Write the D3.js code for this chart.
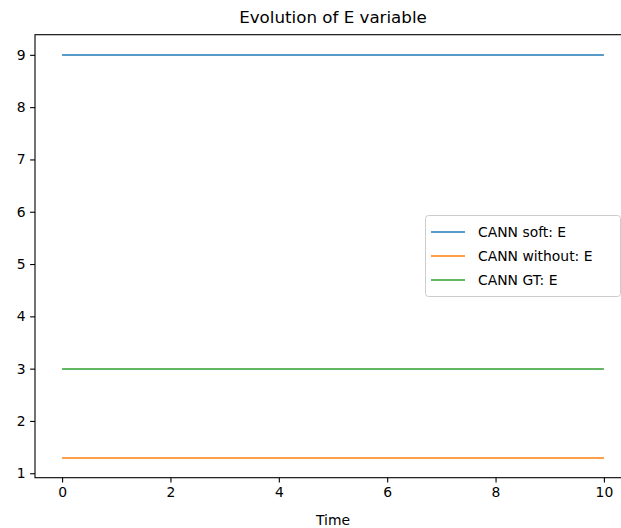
<!DOCTYPE html>
<html>
<head>
<meta charset="utf-8">
<script src="https://cdn.jsdelivr.net/npm/d3@7/dist/d3.min.js"></script>
<style>
body { margin: 0; background: #fff; }
svg { display: block; font-family: "DejaVu Sans", sans-serif; }
</style>
</head>
<body>
<svg id="chart" width="621" height="528"></svg>
<script>
const times = [0, 1, 2, 3, 4, 5, 6, 7, 8, 9, 10];
const softE = [9, 9, 9, 9, 9, 9, 9, 9, 9, 9, 9];
const withoutE = [1.3, 1.3, 1.3, 1.3, 1.3, 1.3, 1.3, 1.3, 1.3, 1.3, 1.3];
const gtE = [3, 3, 3, 3, 3, 3, 3, 3, 3, 3, 3];
const seriesNames = ["CANN soft: E", "CANN without: E", "CANN GT: E"];
const seriesColors = ["#1f77b4", "#ff7f0e", "#2ca02c"];
const xTicks = [0, 2, 4, 6, 8, 10];
const yTicks = [1, 2, 3, 4, 5, 6, 7, 8, 9];

const series = [softE, withoutE, gtE];
const svg = d3.select("#chart");
const L = 35, T = 34.7, R = 631, B = 477.7;

const xmin = d3.min(times), xmax = d3.max(times);
const xpad = (xmax - xmin) * 0.05;
const allY = series.flat();
const ymin = d3.min(allY), ymax = d3.max(allY);
const ypad = (ymax - ymin) * 0.05;

const x = d3.scaleLinear().domain([xmin - xpad, xmax + xpad]).range([L, R]);
const y = d3.scaleLinear().domain([ymin - ypad, ymax + ypad]).range([B, T]);

const line = d3.line().x((d, i) => x(times[i])).y(d => Math.round(y(d)));
series.forEach((s, k) => {
  svg.append("path").datum(s)
    .attr("d", line).attr("fill", "none")
    .attr("stroke", seriesColors[k]).attr("stroke-width", 1.5);
});

// spines
svg.append("rect").attr("x", L).attr("y", T).attr("width", R - L).attr("height", B - T)
  .attr("fill", "none").attr("stroke", "#000").attr("stroke-width", 1.1);

const xAxis = svg.append("g").attr("transform", `translate(0,${B})`)
  .call(d3.axisBottom(x).tickValues(xTicks).tickSize(4.9).tickPadding(4.5).tickFormat(d3.format("d")));
const yAxis = svg.append("g").attr("transform", `translate(${L},0)`)
  .call(d3.axisLeft(y).tickValues(yTicks).tickSize(4.9).tickPadding(4.5).tickFormat(d3.format("d")));
[xAxis, yAxis].forEach(a => {
  a.select(".domain").remove();
  a.selectAll("text").attr("font-size", 13.9).attr("font-family", "DejaVu Sans").attr("fill", "#000");
  a.selectAll("line").attr("stroke", "#000").attr("stroke-width", 1.1);
});

svg.append("text").attr("x", (L + R) / 2).attr("y", 23)
  .attr("text-anchor", "middle").attr("font-size", 16.7).text("Evolution of E variable");
svg.append("text").attr("x", (L + R) / 2).attr("y", 525)
  .attr("text-anchor", "middle").attr("font-size", 13.9).text("Time");

// legend
const lg = svg.append("g");
lg.append("rect").attr("x", 425.5).attr("y", 215.5).attr("width", 195).attr("height", 81)
  .attr("rx", 3).attr("fill", "#fff").attr("fill-opacity", 0.8)
  .attr("stroke", "#ccc").attr("stroke-width", 1);
seriesNames.forEach((n, k) => {
  const yy = 232 + k * 24;
  lg.append("line").attr("x1", 431).attr("x2", 465).attr("y1", yy).attr("y2", yy)
    .attr("stroke", seriesColors[k]).attr("stroke-width", 1.5);
  lg.append("text").attr("x", 478).attr("y", yy + 5).attr("font-size", 13.9).text(n);
});
</script>
</body>
</html>
